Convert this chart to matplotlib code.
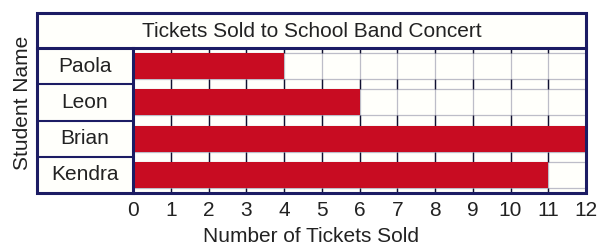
import matplotlib
matplotlib.use("Agg")
import matplotlib.pyplot as plt
from matplotlib.patches import Rectangle

students = ["Paola", "Leon", "Brian", "Kendra"]
tickets = [4, 6, 12, 11]
x_ticks = list(range(0, 13))
title = "Tickets Sold to School Band Concert"
x_label = "Number of Tickets Sold"
y_label = "Student Name"

plt.rcParams['font.family'] = ['Liberation Sans', 'DejaVu Sans']

W, H = 611, 252
NAVY = "#1c1c64"
RED = "#c80c22"
GRID = "#bdbdc8"
TEXT = "#222222"
BG = "#fffffb"

fig = plt.figure(figsize=(W / 100, H / 100), dpi=100)
fig.patch.set_facecolor("white")

L, R, T, B = 37, 586, 13, 193
NAME_R, TITLE_B = 133, 48

def fx(px):
    return px / W

def fy(py):
    return 1 - py / H

# main plot axes
ax = fig.add_axes([fx(NAME_R), fy(B), fx(R) - fx(NAME_R), fy(TITLE_B) - fy(B)])
ax.set_facecolor(BG)
n = len(students)
ys = list(range(n))
bh = 0.72
ax.set_xlim(0, 12)
ax.set_ylim(n - 0.5, -0.5)

# light grid
for xv in x_ticks[1:-1]:
    ax.axvline(xv, color=GRID, lw=0.9, zorder=1)
for yv in ys:
    for e in (yv - bh / 2, yv + bh / 2):
        ax.axhline(e, color=GRID, lw=0.9, zorder=1)
# dark tick segments in the gaps between bars
gaps = [(-0.5, -bh / 2)] + [(yv + bh / 2, yv + 1 - bh / 2) for yv in ys[:-1]] + [(n - 1 + bh / 2, n - 0.5)]
for xv in x_ticks[1:-1]:
    for g0, g1 in gaps:
        ax.plot([xv, xv], [g0, g1], color="#101030", lw=1.0, zorder=2, solid_capstyle="butt")

ax.barh(ys, tickets, height=bh, color=RED, zorder=3)

ax.set_yticks([])
ax.set_xticks(x_ticks)
ax.set_xticklabels([str(v) for v in x_ticks], fontsize=15, color=TEXT)
ax.tick_params(axis="x", length=0, pad=6)
for s in ax.spines.values():
    s.set_visible(False)

# name column axes
nax = fig.add_axes([fx(L), fy(B), fx(NAME_R) - fx(L), fy(TITLE_B) - fy(B)])
nax.set_facecolor(BG)
nax.set_xlim(0, 1)
nax.set_ylim(n - 0.5, -0.5)
for yv, name in zip(ys, students):
    nax.text(0.5, yv, name, ha="center", va="center", fontsize=15, color=TEXT)
for yv in ys[:-1]:
    nax.axhline(yv + 0.5, color=NAVY, lw=1.5)
nax.set_xticks([])
nax.set_yticks([])
for s in nax.spines.values():
    s.set_visible(False)

# title row
tax = fig.add_axes([fx(L), fy(TITLE_B), fx(R) - fx(L), fy(T) - fy(TITLE_B)])
tax.set_facecolor(BG)
tax.text(0.5, 0.48, title, ha="center", va="center", fontsize=15, color=TEXT, transform=tax.transAxes)
tax.set_xticks([])
tax.set_yticks([])
for s in tax.spines.values():
    s.set_visible(False)

# frame lines
fig.add_artist(Rectangle((fx(L), fy(B)), fx(R) - fx(L), fy(T) - fy(B), fill=False,
                         edgecolor=NAVY, lw=2.2, transform=fig.transFigure, zorder=10))
fig.add_artist(plt.Line2D([fx(L), fx(R)], [fy(TITLE_B), fy(TITLE_B)], color=NAVY, lw=2.2,
                          transform=fig.transFigure, zorder=10))
fig.add_artist(plt.Line2D([fx(NAME_R), fx(NAME_R)], [fy(B), fy(TITLE_B)], color=NAVY, lw=2.2,
                          transform=fig.transFigure, zorder=10))

fig.text(fx(23), fy(103), y_label, rotation=90, ha="center", va="center", fontsize=15, color=TEXT)
fig.text(fx(311), fy(236), x_label, ha="center", va="center", fontsize=15, color=TEXT)

fig.savefig("out.png", dpi=100)
